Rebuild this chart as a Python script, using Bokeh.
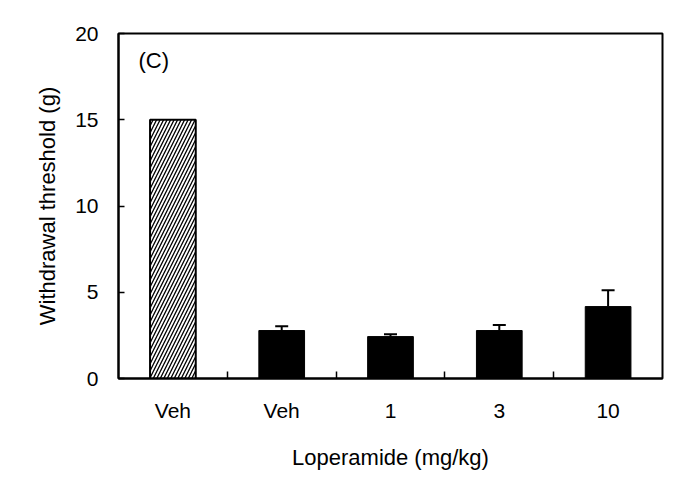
from bokeh.plotting import figure
from bokeh.models import FixedTicker, Range1d, Whisker, TeeHead, ColumnDataSource, Label
from bokeh.embed import file_html
from bokeh.resources import INLINE

labels = ["Veh", "Veh", "1", "3", "10"]
means = [15.0, 2.78, 2.43, 2.78, 4.17]
sems = [0.0, 0.25, 0.14, 0.32, 0.95]
y_ticks = [0, 5, 10, 15, 20]

xs = list(range(len(labels)))
FONT = "Liberation Sans"

p = figure(width=682, height=472, output_backend="svg", toolbar_location=None,
           x_range=Range1d(-0.5, len(labels) - 0.5), y_range=Range1d(0, 20),
           min_border_left=118, min_border_top=33, min_border_right=20, min_border_bottom=94)
p.grid.visible = False
p.outline_line_color = "black"
p.outline_line_width = 2

# hatched first bar
src1 = ColumnDataSource(dict(x=xs[:1], top=means[:1]))
p.vbar(x="x", top="top", width=0.42, source=src1, fill_color="white", line_color="black",
       line_width=2, hatch_pattern="/", hatch_color="black", hatch_scale=7, hatch_weight=1.3)

src2 = ColumnDataSource(dict(x=xs[1:], top=means[1:], upper=[m + s for m, s in zip(means[1:], sems[1:])]))
p.vbar(x="x", top="top", width=0.42, source=src2, fill_color="black", line_color="black", line_width=1)
w = Whisker(base="x", lower="top", upper="upper", source=src2, line_color="black", line_width=2,
            upper_head=TeeHead(size=13, line_width=2, line_color="black"), lower_head=None)
p.add_layout(w)

p.xaxis.ticker = FixedTicker(ticks=xs, minor_ticks=[x + 0.5 for x in xs[:-1]])
p.xaxis.major_label_overrides = {x: l for x, l in zip(xs, labels)}
p.xaxis.major_tick_in = 0
p.xaxis.major_tick_out = 0
p.xaxis.minor_tick_in = 7
p.xaxis.minor_tick_out = 0
p.xaxis.minor_tick_line_width = 1.5
p.xaxis.minor_tick_line_color = "black"
p.xaxis.axis_label = "Loperamide (mg/kg)"

p.yaxis.ticker = FixedTicker(ticks=y_ticks, minor_ticks=[])
p.yaxis.major_tick_in = 6
p.yaxis.major_tick_out = 0
p.yaxis.major_tick_line_width = 1.5
p.yaxis.axis_label = "Withdrawal threshold (g)"

for ax in (p.xaxis[0], p.yaxis[0]):
    ax.axis_line_width = 2
    ax.axis_line_color = "black"
    ax.major_label_text_font = FONT
    ax.major_label_text_font_size = "21px"
    ax.major_label_text_color = "black"
    ax.axis_label_text_font = FONT
    ax.axis_label_text_font_size = "22px"
    ax.axis_label_text_font_style = "normal"
    ax.axis_label_text_color = "black"
p.xaxis.major_label_standoff = 20
p.yaxis.major_label_standoff = 20
p.xaxis.axis_label_standoff = 20
p.yaxis.axis_label_standoff = 12

p.add_layout(Label(x=20, y=318, x_units="screen", y_units="screen", text="(C)",
                   text_font=FONT, text_font_size="22px", text_baseline="middle", text_color="black"))

open("out.html", "w").write(file_html(p, INLINE))
